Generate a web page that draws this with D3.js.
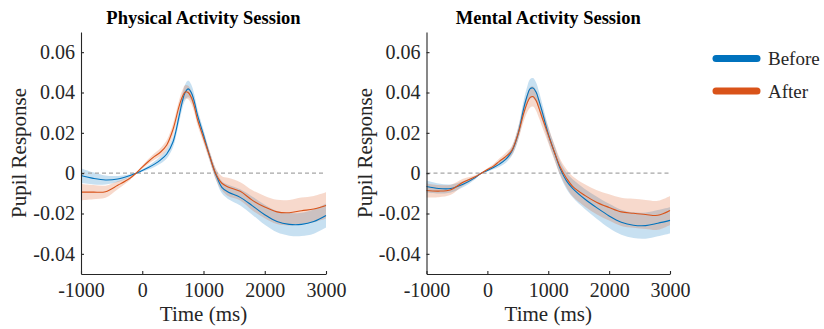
<!DOCTYPE html>
<html lang="en">
<head>
<meta charset="utf-8">
<title>Pupil Response</title>
<script src="https://cdn.jsdelivr.net/npm/d3@7"></script>
<style>
  body { margin: 0; background: #fff; }
  text { font-family: "Liberation Serif", "DejaVu Serif", serif; fill: #262626; }
</style>
</head>
<body>
<script>
// time grid (ms) and values
var timeMs = [-1000,-800,-600,-400,-200,-100,0,100,200,300,400,500,600,650,700,750,800,850,900,1000,1100,1200,1300,1400,1600,1800,2000,2200,2400,2600,2800,3000];

var physBeforeMean = [-0.0012,-0.0026,-0.0034,-0.0029,-0.0012,0,0.0013,0.0028,0.0045,0.0066,0.0095,0.0153,0.028,0.035,0.040,0.0418,0.040,0.0355,0.029,0.019,0.0085,-0.0005,-0.007,-0.0093,-0.012,-0.0162,-0.0206,-0.024,-0.0254,-0.0254,-0.024,-0.021];
var physBeforeSE   = [0.0037,0.003,0.0022,0.0015,0.0007,0.0003,0.0006,0.001,0.0014,0.0018,0.0022,0.0026,0.003,0.0035,0.004,0.0042,0.004,0.0035,0.003,0.0025,0.0022,0.0025,0.003,0.0035,0.004,0.0045,0.005,0.0053,0.0056,0.0058,0.006,0.006];
var physAfterMean  = [-0.0094,-0.0094,-0.0092,-0.006,-0.0025,0,0.003,0.0058,0.0083,0.0105,0.014,0.0215,0.033,0.0375,0.0403,0.040,0.0376,0.033,0.0268,0.0175,0.0085,-0.0003,-0.005,-0.0068,-0.009,-0.0135,-0.0168,-0.0192,-0.0196,-0.0186,-0.0178,-0.016];
var physAfterSE    = [0.004,0.0035,0.003,0.002,0.0009,0.0003,0.0008,0.0012,0.0016,0.002,0.0024,0.0028,0.003,0.0032,0.0033,0.0033,0.0032,0.003,0.0028,0.0025,0.0025,0.0028,0.0035,0.0045,0.0045,0.005,0.0055,0.006,0.0063,0.0065,0.0065,0.0065];

var mentBeforeMean = [-0.0066,-0.0076,-0.0076,-0.0055,-0.0022,0,0.0013,0.0028,0.0045,0.0068,0.0107,0.019,0.0325,0.038,0.0418,0.0422,0.0402,0.0357,0.0305,0.0195,0.0105,0.002,-0.0038,-0.0075,-0.0128,-0.0172,-0.0212,-0.0243,-0.0258,-0.026,-0.0248,-0.0234];
var mentBeforeSE   = [0.003,0.0025,0.002,0.0015,0.0008,0.0003,0.0005,0.0009,0.0013,0.0017,0.0022,0.003,0.004,0.0045,0.0048,0.005,0.0048,0.0045,0.004,0.0035,0.0033,0.0035,0.004,0.0045,0.005,0.0055,0.006,0.0062,0.0064,0.0065,0.0065,0.0065];
var mentAfterMean  = [-0.0086,-0.0089,-0.0082,-0.0045,-0.0018,0,0.0018,0.0035,0.006,0.0082,0.0112,0.019,0.030,0.0345,0.0375,0.038,0.036,0.032,0.0275,0.019,0.0105,0.0028,-0.0025,-0.0065,-0.011,-0.0145,-0.017,-0.0192,-0.0199,-0.0205,-0.0209,-0.0185];
var mentAfterSE    = [0.0035,0.003,0.0025,0.0017,0.0008,0.0003,0.0006,0.001,0.0014,0.0018,0.0022,0.003,0.004,0.0045,0.005,0.005,0.005,0.0048,0.0045,0.004,0.0038,0.004,0.0045,0.005,0.0055,0.006,0.0065,0.007,0.0072,0.0072,0.0072,0.0072];

var panelTitles = ["Physical Activity Session", "Mental Activity Session"];
var seriesNames = ["Before", "After"];
var seriesColors = ["#0072BD", "#D95319"];
var xTicks = [-1000, 0, 1000, 2000, 3000];
var yTicks = [-0.04, -0.02, 0, 0.02, 0.04, 0.06];

var panels = [
  { title: panelTitles[0], left: 81, right: 326,
    series: [ { mean: physBeforeMean, se: physBeforeSE }, { mean: physAfterMean, se: physAfterSE } ] },
  { title: panelTitles[1], left: 426.5, right: 670,
    series: [ { mean: mentBeforeMean, se: mentBeforeSE }, { mean: mentAfterMean, se: mentAfterSE } ] }
];

var svg = d3.select("body").append("svg").attr("width", 824).attr("height", 329);

var plotTop = 32, plotBottom = 274;
var y = d3.scaleLinear().domain([-0.05, 0.07]).range([plotBottom, plotTop]);

panels.forEach(function(p) {
  var x = d3.scaleLinear().domain([-1000, 3000]).range([p.left, p.right]);
  var g = svg.append("g");

  var line = d3.line()
    .x(function(d, i) { return x(timeMs[i]); })
    .y(function(d) { return y(d); })
    .curve(d3.curveCatmullRom.alpha(0.5));

  var area = d3.area()
    .x(function(d, i) { return x(timeMs[i]); })
    .y0(function(d) { return y(d[0] - d[1]); })
    .y1(function(d) { return y(d[0] + d[1]); })
    .curve(d3.curveCatmullRom.alpha(0.5));

  // shaded error bands
  p.series.forEach(function(s, k) {
    var pts = s.mean.map(function(m, i) { return [m, s.se[i]]; });
    g.append("path")
      .attr("d", area(pts))
      .attr("fill", seriesColors[k])
      .attr("fill-opacity", 0.22)
      .attr("stroke", "none");
  });

  // zero reference
  g.append("line")
    .attr("x1", x(-1000)).attr("x2", x(3000))
    .attr("y1", y(0)).attr("y2", y(0))
    .attr("stroke", "#a6a6a6")
    .attr("stroke-width", 1.2)
    .attr("stroke-dasharray", "4,3");

  // mean lines
  p.series.forEach(function(s, k) {
    g.append("path")
      .attr("d", line(s.mean))
      .attr("fill", "none")
      .attr("stroke", seriesColors[k])
      .attr("stroke-width", 1.1);
  });

  var xAxis = d3.axisBottom(x).tickValues(xTicks).tickSizeInner(-3).tickSizeOuter(0).tickPadding(9)
    .tickFormat(function(d) { return String(d); });
  var yAxis = d3.axisLeft(y).tickValues(yTicks).tickSizeInner(-3).tickSizeOuter(0).tickPadding(6)
    .tickFormat(function(d) { return d === 0 ? "0" : d.toFixed(2); });

  var gx = g.append("g").attr("transform", "translate(0," + plotBottom + ")").call(xAxis);
  var gy = g.append("g").attr("transform", "translate(" + p.left + ",0)").call(yAxis);
  [gx, gy].forEach(function(a) {
    a.select(".domain").attr("stroke", "#262626").attr("stroke-width", 1.1);
    a.selectAll(".tick line").attr("stroke", "#262626").attr("stroke-width", 1.1);
    a.selectAll(".tick text").style("font-family", "'Liberation Serif', serif")
      .style("font-size", "20px").attr("fill", "#262626");
  });

  var cx = (p.left + p.right) / 2;
  g.append("text")
    .attr("x", cx).attr("y", 24)
    .attr("text-anchor", "middle")
    .style("font-size", "18.5px").style("font-weight", "bold")
    .style("fill", "#000")
    .text(p.title);

  g.append("text")
    .attr("x", cx).attr("y", 321)
    .attr("text-anchor", "middle")
    .style("font-size", "21px")
    .text("Time (ms)");

  g.append("text")
    .attr("transform", "translate(" + (p.left - 55) + "," + ((plotTop + plotBottom) / 2) + ") rotate(-90)")
    .attr("text-anchor", "middle")
    .style("font-size", "21px")
    .text("Pupil Response");
});

// legend
var legend = svg.append("g");
seriesNames.forEach(function(name, k) {
  var ly = 58.5 + k * 32.5;
  legend.append("line")
    .attr("x1", 716).attr("x2", 757)
    .attr("y1", ly).attr("y2", ly)
    .attr("stroke", seriesColors[k])
    .attr("stroke-width", 7)
    .attr("stroke-linecap", "round");
  legend.append("text")
    .attr("x", 768).attr("y", ly + 6.5)
    .style("font-size", "19px")
    .text(name);
});
</script>
</body>
</html>
